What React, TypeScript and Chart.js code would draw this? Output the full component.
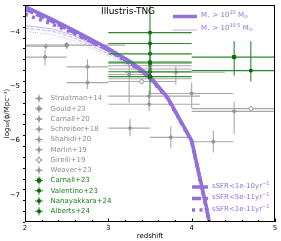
import { useEffect, useRef } from 'react';
import { Chart, registerables } from 'chart.js';
import { drawPoint } from 'chart.js/helpers';

Chart.register(...registerables);

const FONT = '"DejaVu Sans", sans-serif';
const PURPLE = '#9370db';
const PURPLE_LIGHT = 'rgba(147,112,219,0.55)';
const GRAY_LINE = '#a9a9a9';
const GRAY_MARK = '#969696';
const GRAY_TEXT = '#8e8e8e';
const GREEN_LINE = '#2b8a2b';
const GREEN_MARK = '#0b6a0b';
const GREEN_TEXT = '#1c7d1c';

// axis ticks
const xTickValues = [2, 3, 4, 5];
const yTickValues = [-4, -5, -6, -7];

// Illustris-TNG model curves: log10(phi / Mpc^-3) vs redshift
const tngZ = [2.0, 2.32, 2.58, 3.0, 3.28, 3.49, 3.71, 4.0, 4.18, 4.43];
const m100Ssfr1e10 = [-3.53, -3.76, -3.96, -4.3, -4.56, -4.8, -5.2, -6.0, -7.25, -9.2];
const m100Ssfr5e11 = [-3.58, -3.8, -4.0, -4.33, -4.58, -4.82, -5.21, -6.01, -7.27, -9.2];
const m100Ssfr1e11 = [-3.67, -3.85, -4.02, -4.33, -4.6, -4.84, -5.22, -6.02, -7.28, -9.2];
const m105Ssfr1e10 = [-3.88, -3.94, -4.06, -4.36, -4.6, -4.84, -5.22, -6.02, -7.28, -9.2];
const m105Ssfr5e11 = [-3.93, -3.98, -4.1, -4.4, -4.63, -4.85, -5.22, -6.02, -7.28, -9.2];
const m105Ssfr1e11 = [-3.99, -4.04, -4.15, -4.44, -4.66, -4.86, -5.23, -6.03, -7.29, -9.2];

// observations: [z, logPhi, zLow, zHigh, logPhiLow, logPhiHigh]
const straatman14 = [[3.25, -4.78, 3.0, 3.5, -4.6, -5.3], [3.26, -5.77, 3.0, 3.5, -5.6, -5.92]];
const gould23 = [[2.5, -4.24, 2.0, 3.2, -4.18, -4.31], [3.5, -4.62, 3.0, 4.0, -4.55, -4.7]];
const carnall20 = [[2.24, -4.46, 2.0, 2.5, -4.33, -4.61], [3.75, -5.94, 3.5, 4.0, -5.74, -6.14]];
const schreiber18 = [[2.75, -4.64, 2.5, 3.0, -4.5, -4.92], [3.81, -4.74, 3.2, 4.4, -4.63, -4.97]];
const shahidi20 = [[2.75, -4.93, 2.5, 3.0, -4.83, -5.05], [4.26, -6.02, 4.0, 4.5, -5.82, -6.22]];
const merlin19 = [[3.49, -5.33, 3.0, 4.1, -5.25, -5.46], [4.51, -5.46, 4.0, 5.0, -5.28, -5.88]];
const girelli19 = [[3.4, -4.91, 3.0, 3.8, -4.86, -4.96], [4.71, -5.41, 4.0, 5.0, -5.36, -5.46]];
const weaver23 = [[2.25, -4.26, 2.0, 2.5, -4.21, -4.31], [3.49, -5.18, 3.0, 4.1, -5.08, -5.3], [4.0, -5.13, 3.5, 4.5, -4.93, -5.4], [3.5, -4.68, 3.0, 4.0, -4.6, -4.75], [3.5, -4.86, 3.0, 4.0, -4.8, -4.92]];
const carnall23 = [[3.5, -4.82, 3.0, 4.0, -4.7, -5.15], [4.51, -4.46, 4.0, 5.0, -4.17, -4.8]];
const valentino23 = [[3.5, -4.21, 3.0, 4.0, -4.0, -4.45], [4.71, -4.71, 4.0, 5.0, -4.17, -4.91]];
const nanayakkara24 = [[3.5, -4.4, 3.0, 4.0, -4.2, -4.6], [3.5, -4.57, 3.0, 4.0, -4.4, -4.75]];
const alberts24 = [[3.5, -4.01, 3.0, 4.0, -3.5, -4.3], [3.5, -4.73, 3.0, 4.0, -4.6, -4.85], [3.5, -4.55, 3.0, 4.0, -4.45, -4.65]];

const obsLabels = ['Straatman+14', 'Gould+23', 'Carnall+20', 'Schreiber+18', 'Shahidi+20', 'Merlin+19', 'Girelli+19', 'Weaver+23', 'Carnall+23', 'Valentino+23', 'Nanayakkara+24', 'Alberts+24'];
const obsRows = [straatman14, gould23, carnall20, schreiber18, shahidi20, merlin19, girelli19, weaver23, carnall23, valentino23, nanayakkara24, alberts24];
const obsGreen = [false, false, false, false, false, false, false, false, true, true, true, true];
const obsStyle = ['rectRot', 'circle', 'rectRot', 'rectRot', 'rectRot', 'rectRot', 'circle', 'rectRot', 'rect', 'rect', 'rect', 'rect'];
const obsOpen = [false, false, false, false, false, false, true, false, false, false, false, false];

const ssfrLabels = ['sSFR<1e-10yr', 'sSFR<5e-11yr', 'sSFR<1e-11yr'];
const dashes: number[][] = [[], [9, 3], [3, 4.5]];

function richText(ctx: CanvasRenderingContext2D, x: number, y: number, parts: Array<[string, number, number]>, color: string) {
  ctx.fillStyle = color;
  ctx.textAlign = 'left';
  ctx.textBaseline = 'middle';
  let cx = x;
  for (const [t, size, dy] of parts) {
    ctx.font = `${size}px ${FONT}`;
    ctx.fillText(t, cx, y + dy);
    cx += ctx.measureText(t).width;
  }
}

const errorBarPlugin = {
  id: 'errorBars',
  beforeDatasetDraw(chart: any, args: any) {
    const ds = chart.data.datasets[args.index];
    if (!ds.errorRows) return;
    const { ctx, chartArea: a, scales } = chart;
    const xs = scales.x;
    const ys = scales.y;
    ctx.save();
    ctx.beginPath();
    ctx.rect(a.left, a.top, a.right - a.left, a.bottom - a.top);
    ctx.clip();
    ctx.strokeStyle = ds.errorColor;
    ctx.lineWidth = 1.1;
    ctx.beginPath();
    for (const r of ds.errorRows) {
      const px = xs.getPixelForValue(r[0]);
      const py = ys.getPixelForValue(r[1]);
      ctx.moveTo(xs.getPixelForValue(r[2]), py);
      ctx.lineTo(xs.getPixelForValue(r[3]), py);
      ctx.moveTo(px, ys.getPixelForValue(r[4]));
      ctx.lineTo(px, ys.getPixelForValue(r[5]));
    }
    ctx.stroke();
    ctx.restore();
  },
};

const decorPlugin = {
  id: 'decor',
  beforeDatasetsDraw(chart: any) {
    // top-right legend (mass cuts) drawn beneath data
    const { ctx } = chart;
    ctx.save();
    ctx.lineCap = 'butt';
    ctx.strokeStyle = PURPLE;
    ctx.lineWidth = 3.5;
    ctx.beginPath(); ctx.moveTo(173, 16.5); ctx.lineTo(197, 16.5); ctx.stroke();
    ctx.strokeStyle = PURPLE_LIGHT;
    ctx.lineWidth = 1;
    ctx.beginPath(); ctx.moveTo(173, 30); ctx.lineTo(197, 30); ctx.stroke();
    richText(ctx, 201, 15, [['M', 7, 0], ['⋆', 5, 2], [' > 10', 7, 0], ['10', 5, -2.5], [' M', 7, 0], ['⊙', 5, 2]], PURPLE);
    richText(ctx, 201, 28, [['M', 7, 0], ['⋆', 5, 2], [' > 10', 7, 0], ['10.5', 5, -2.5], [' M', 7, 0], ['⊙', 5, 2]], PURPLE);
    ctx.restore();
  },
  afterDraw(chart: any) {
    const { ctx, chartArea: a, scales } = chart;
    const xs = scales.x;
    const ys = scales.y;
    ctx.save();
    // frame
    ctx.strokeStyle = '#000';
    ctx.lineWidth = 1;
    ctx.strokeRect(a.left + 0.5, a.top + 0.5, a.right - a.left - 1, a.bottom - a.top - 1);
    // ticks
    ctx.beginPath();
    for (let i = 0; i <= 15; i++) {
      const v = 2 + i * 0.2;
      const major = i % 5 === 0;
      const px = Math.round(xs.getPixelForValue(v)) + 0.5;
      ctx.moveTo(px, a.bottom);
      ctx.lineTo(px, a.bottom - (major ? 3.5 : 2));
    }
    for (let i = 0; i <= 20; i++) {
      const v = -7.5 + i * 0.2;
      if (v > -3.5) break;
      const major = Math.abs(v - Math.round(v)) < 1e-6;
      const py = Math.round(ys.getPixelForValue(v)) + 0.5;
      ctx.moveTo(a.left, py);
      ctx.lineTo(a.left - (major ? 3.5 : 2), py);
    }
    ctx.stroke();

    // tick labels
    ctx.fillStyle = '#000';
    ctx.font = `7px ${FONT}`;
    ctx.textBaseline = 'middle';
    ctx.textAlign = 'center';
    xTickValues.forEach((v) => ctx.fillText(String(v), xs.getPixelForValue(v), a.bottom + 6.5));
    ctx.textAlign = 'right';
    yTickValues.forEach((v) => ctx.fillText('−' + Math.abs(v), a.left - 5, ys.getPixelForValue(v)));
    // axis titles
    ctx.textAlign = 'center';
    ctx.fillText('redshift', (a.left + a.right) / 2, a.bottom + 14.5);
    ctx.save();
    ctx.translate(7, (a.top + a.bottom) / 2);
    ctx.rotate(-Math.PI / 2);
    ctx.fillText('log₁₀(ϕ/Mpc⁻³)', 0, 0);
    ctx.restore();

    // title text
    ctx.fillStyle = '#000';
    ctx.font = `9px ${FONT}`;
    ctx.textAlign = 'left';
    ctx.textBaseline = 'middle';
    ctx.fillText('Illustris-TNG', 101, 11.5);

    // observation legend
    const datasets = chart.data.datasets.filter((d: any) => d.errorRows);
    datasets.forEach((d: any, i: number) => {
      const y = 98.5 + i * 10.25;
      const lx = 39;
      ctx.strokeStyle = d.errorColor;
      ctx.lineWidth = 1.1;
      ctx.beginPath();
      ctx.moveTo(lx - 4, y); ctx.lineTo(lx + 4, y);
      ctx.moveTo(lx, y - 4); ctx.lineTo(lx, y + 4);
      ctx.stroke();
      ctx.fillStyle = d.pointBackgroundColor;
      ctx.strokeStyle = d.pointBorderColor;
      ctx.lineWidth = 1;
      drawPoint(ctx, { pointStyle: d.pointStyle, radius: d.pointRadius, borderWidth: 1, rotation: 0 } as any, lx, y);
      ctx.fillStyle = d.legendText;
      ctx.font = `7px ${FONT}`;
      ctx.textAlign = 'left';
      ctx.textBaseline = 'middle';
      ctx.fillText(d.label, 50.5, y);
    });

    // sSFR legend
    ssfrLabels.forEach((lab, i) => {
      const y = 187 + i * 11.5;
      ctx.strokeStyle = PURPLE;
      ctx.lineWidth = 3.5;
      ctx.setLineDash(dashes[i]);
      ctx.beginPath(); ctx.moveTo(192, y); ctx.lineTo(208, y); ctx.stroke();
      ctx.setLineDash([]);
      richText(ctx, 212, y - 1, [[lab, 7, 0], ['−1', 5, -2.5]], PURPLE);
    });
    ctx.restore();
  },
};

function curve(vals: number[]) {
  return tngZ.map((z, i) => ({ x: z, y: vals[i] }));
}

export default function App() {
  const ref = useRef<HTMLCanvasElement>(null);
  useEffect(() => {
    const modelSets = [
      { vals: m105Ssfr1e10, w: 1, c: PURPLE_LIGHT, d: [] },
      { vals: m105Ssfr5e11, w: 1, c: PURPLE_LIGHT, d: [4, 1.5] },
      { vals: m105Ssfr1e11, w: 1, c: PURPLE_LIGHT, d: [1, 1.5] },
      { vals: m100Ssfr1e10, w: 3.5, c: PURPLE, d: dashes[0] },
      { vals: m100Ssfr5e11, w: 3.5, c: PURPLE, d: dashes[1] },
      { vals: m100Ssfr1e11, w: 3.5, c: PURPLE, d: dashes[2] },
    ].map((m) => ({
      type: 'scatter',
      data: curve(m.vals),
      showLine: true,
      borderColor: m.c,
      borderWidth: m.w,
      borderDash: m.d,
      pointRadius: 0,
      fill: false,
      order: 2,
    }));
    const obsSets = obsLabels.map((label, i) => {
      const green = obsGreen[i];
      const mark = green ? GREEN_MARK : GRAY_MARK;
      return {
        type: 'scatter',
        label,
        data: obsRows[i].map((r) => ({ x: r[0], y: r[1] })),
        errorRows: obsRows[i],
        errorColor: green ? GREEN_LINE : GRAY_LINE,
        legendText: green ? GREEN_TEXT : GRAY_TEXT,
        pointStyle: obsStyle[i],
        pointRadius: green ? (i === 8 ? 2.3 : 1.8) : 2,
        pointBackgroundColor: obsOpen[i] ? '#ffffff' : mark,
        pointBorderColor: mark,
        pointBorderWidth: 1,
        order: green ? 1 : 3,
      };
    });
    const chart = new Chart(ref.current as HTMLCanvasElement, {
      type: 'scatter',
      data: { datasets: [...modelSets, ...obsSets] as any },
      options: {
        responsive: false,
        devicePixelRatio: 1,
        animation: false,
        events: [],
        layout: { padding: { top: 3, right: 6, left: 25, bottom: 19 } },
        plugins: { legend: { display: false }, tooltip: { enabled: false } },
        scales: {
          x: { type: 'linear', min: 2, max: 5, display: false },
          y: { type: 'linear', min: -7.5, max: -3.5, display: false },
        },
      },
      plugins: [errorBarPlugin, decorPlugin],
    } as any);
    return () => chart.destroy();
  }, []);
  return (
    <div style={{ position: 'absolute', left: 0, top: 0, width: 281, height: 241 }}>
      <canvas ref={ref} width={281} height={241} style={{ display: 'block', width: 281, height: 241 }} />
    </div>
  );
}
